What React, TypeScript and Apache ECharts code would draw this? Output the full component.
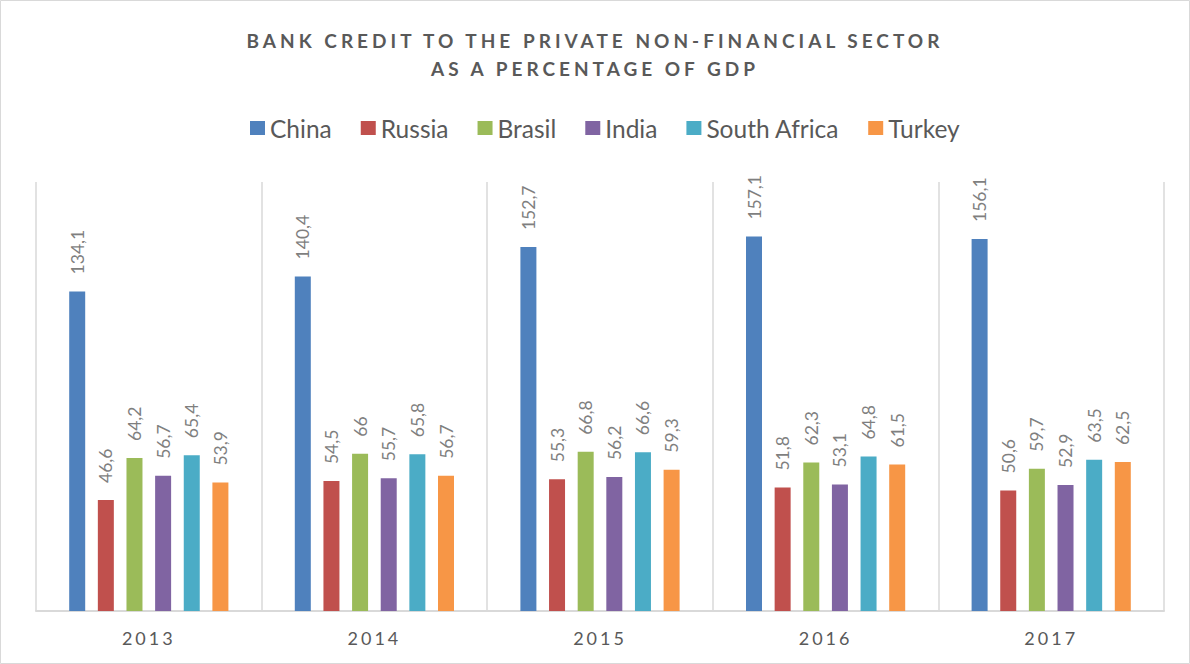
import React, { useEffect, useRef } from "react";
import * as echarts from "echarts";

const years = ["2013", "2014", "2015", "2016", "2017"];
const countries = ["China", "Russia", "Brasil", "India", "South Africa", "Turkey"];
const china = [134.1, 140.4, 152.7, 157.1, 156.1];
const russia = [46.6, 54.5, 55.3, 51.8, 50.6];
const brasil = [64.2, 66, 66.8, 62.3, 59.7];
const india = [56.7, 55.7, 56.2, 53.1, 52.9];
const southAfrica = [65.4, 65.8, 66.6, 64.8, 63.5];
const turkey = [53.9, 56.7, 59.3, 61.5, 62.5];
const colors = ["#4f81bd", "#c0504d", "#9bbb59", "#8064a2", "#4bacc6", "#f79646"];

const seriesValues = [china, russia, brasil, india, southAfrica, turkey];

export default function App() {
  const ref = useRef<HTMLDivElement>(null);
  useEffect(() => {
    if (!ref.current) return;
    const chart = echarts.init(ref.current, null, { renderer: "svg" });
    chart.setOption({
      animation: false,
      color: colors,
      backgroundColor: "#ffffff",
      title: {
        text: "BANK CREDIT TO THE PRIVATE NON-FINANCIAL SECTOR\nAS A PERCENTAGE OF GDP",
        left: "center",
        top: 26,
        padding: 0,
        textStyle: {
          fontFamily: "Lato",
          fontWeight: "bold",
          fontSize: 19,
          lineHeight: 28,
          color: "#595959",
        },
      },
      legend: {
        top: 114,
        left: 250,
        padding: 0,
        itemWidth: 15,
        itemHeight: 14,
        itemGap: 29,
        icon: "rect",
        data: countries,
        textStyle: { fontFamily: "Lato", fontSize: 24.5, lineHeight: 28, color: "#595959" },
      },
      grid: { left: 36, right: 26, top: 182, bottom: 53, containLabel: false },
      xAxis: {
        type: "category",
        data: years,
        axisTick: { show: false },
        axisLine: { lineStyle: { color: "#d9d9d9", width: 2 } },
        splitLine: { show: true, lineStyle: { color: "#d9d9d9", width: 1.5 } },
        axisLabel: {
          margin: 18,
          fontFamily: "Lato, Liberation Sans",
          fontSize: 18,
          color: "#595959",
        },
      },
      yAxis: { type: "value", min: 0, max: 180, show: false },
      graphic: [
        {
          type: "rect",
          shape: { x: 0.5, y: 0.5, width: 1189, height: 663 },
          style: { fill: "none", stroke: "#d9d9d9", lineWidth: 1 },
          silent: true,
        },
      ],
      series: countries.map((name, i) => ({
        name,
        type: "bar",
        data: seriesValues[i],
        barWidth: 16,
        barGap: "79%",
        label: {
          show: true,
          position: "top",
          distance: 17,
          rotate: 90,
          align: "left",
          verticalAlign: "middle",
          fontFamily: "Lato",
          fontSize: 17.5,
          color: "#7f7f7f",
          formatter: (p: any) => String(p.value).replace(".", ","),
        },
      })),
    });
    return () => chart.dispose();
  }, []);
  return (
    <div id="chartwrap">
      <style>{`
        body { margin: 0; }
        #chartwrap text[style*="bold"] { letter-spacing: 4px; }
        #chartwrap text[style*="Liberation"] { letter-spacing: 3px; }
      `}</style>
      <div ref={ref} style={{ position: "absolute", left: 0, top: 0, width: 1190, height: 664 }} />
    </div>
  );
}
